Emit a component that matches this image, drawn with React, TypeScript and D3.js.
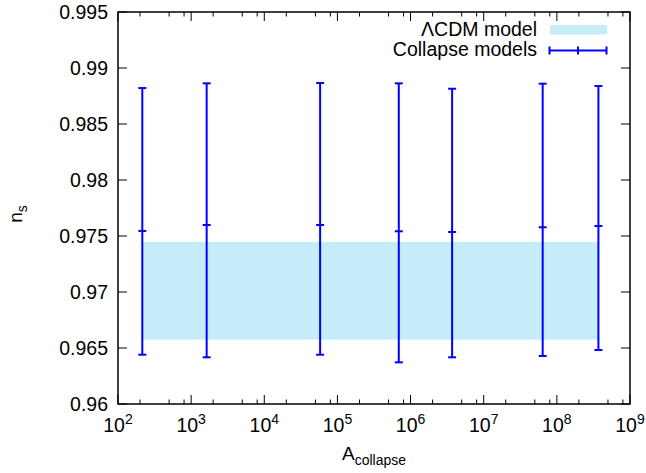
import * as d3 from "d3";

// A_collapse values and the fitted n_s with its error bar
const aCollapse = [215, 1630, 5.8e4, 6.9e5, 3.7e6, 6.4e7, 3.7e8];
const nsCentral = [0.97545, 0.97598, 0.97598, 0.97542, 0.97536, 0.97578, 0.97589];
const nsLow = [0.9644, 0.96417, 0.9644, 0.96372, 0.96417, 0.96429, 0.96482];
const nsHigh = [0.98821, 0.98863, 0.98866, 0.98863, 0.98815, 0.9886, 0.98839];

// LCDM band
const lcdmRange = [0.96574, 0.97446];

const yTicks = [0.96, 0.965, 0.97, 0.975, 0.98, 0.985, 0.99, 0.995];
const yTickLabels = ["0.96", "0.965", "0.97", "0.975", "0.98", "0.985", "0.99", "0.995"];
const xExponents = [2, 3, 4, 5, 6, 7, 8, 9];
const xMinorMult = [2, 5, 8];

const W = 646;
const H = 473;
const left = 118, right = 630, top = 12, bottom = 404;
const BLUE = "#0000ff";
const FONT = "'Liberation Sans', Arial, sans-serif";

export default function App() {
	const x = d3.scaleLog().domain([1e2, 1e9]).range([left, right]);
	const y = d3.scaleLinear().domain([0.96, 0.995]).range([bottom, top]);

	const minorX: number[] = [];
	xExponents.slice(0, -1).forEach((e) => {
		xMinorMult.forEach((m) => minorX.push(m * Math.pow(10, e)));
	});

	const cap = 4;
	const xFirst = x(aCollapse[0]);
	const xLast = x(aCollapse[aCollapse.length - 1]);

	return (
		<svg
			width={W}
			height={H}
			style={{position: "absolute", left: 0, top: 0, background: "#fff"}}
			fontFamily={FONT}
		>
			{/* LCDM band */}
			<rect
				x={xFirst}
				y={y(lcdmRange[1])}
				width={xLast - xFirst}
				height={y(lcdmRange[0]) - y(lcdmRange[1])}
				fill="#c4ecf9"
			/>

			{/* error bars */}
			<g stroke={BLUE} strokeWidth={2} fill="none">
				{aCollapse.map((a, i) => {
					const cx = x(a);
					return (
						<g key={i}>
							<line x1={cx} x2={cx} y1={y(nsLow[i])} y2={y(nsHigh[i])} />
							<line x1={cx - cap} x2={cx + cap} y1={y(nsLow[i])} y2={y(nsLow[i])} />
							<line x1={cx - cap} x2={cx + cap} y1={y(nsHigh[i])} y2={y(nsHigh[i])} />
							<line x1={cx - cap} x2={cx + cap} y1={y(nsCentral[i])} y2={y(nsCentral[i])} />
						</g>
					);
				})}
			</g>

			{/* ticks */}
			<g stroke="#000" strokeWidth={1}>
				{yTicks.map((t) => (
					<g key={t}>
						<line x1={left} x2={left + 9} y1={y(t)} y2={y(t)} />
						<line x1={right} x2={right - 9} y1={y(t)} y2={y(t)} />
					</g>
				))}
				{xExponents.map((e) => {
					const px = x(Math.pow(10, e));
					return (
						<g key={e}>
							<line x1={px} x2={px} y1={bottom} y2={bottom - 9} />
							<line x1={px} x2={px} y1={top} y2={top + 9} />
						</g>
					);
				})}
				{minorX.map((v) => (
					<g key={v}>
						<line x1={x(v)} x2={x(v)} y1={bottom} y2={bottom - 4.5} />
						<line x1={x(v)} x2={x(v)} y1={top} y2={top + 4.5} />
					</g>
				))}
			</g>

			{/* frame */}
			<rect x={left} y={top} width={right - left} height={bottom - top} fill="none" stroke="#000" strokeWidth={1.5} />

			{/* y tick labels */}
			<g fontSize={19.5} textAnchor="end" fill="#000">
				{yTicks.map((t, i) => (
					<text key={t} x={left - 10} y={y(t) + 7}>
						{yTickLabels[i]}
					</text>
				))}
			</g>

			{/* x tick labels */}
			<g fontSize={19.5} textAnchor="middle" fill="#000">
				{xExponents.map((e) => (
					<text key={e} x={x(Math.pow(10, e))} y={432}>
						10
						<tspan fontSize={14} dy={-8}>
							{e}
						</tspan>
					</text>
				))}
			</g>

			{/* axis titles */}
			<text x={(left + right) / 2} y={460} textAnchor="middle" fontSize={19} fill="#000">
				A
				<tspan fontSize={14} dy={5}>
					collapse
				</tspan>
			</text>
			<text transform="translate(22,214) rotate(-90)" textAnchor="middle" fontSize={19} fill="#000">
				n
				<tspan fontSize={14} dy={5}>
					s
				</tspan>
			</text>

			{/* legend */}
			<g fontSize={19.5} textAnchor="end" fill="#000">
				<text x={537} y={36}>ΛCDM model</text>
				<text x={537} y={56}>Collapse models</text>
			</g>
			<rect x={550} y={25} width={57} height={9.5} fill="#c4ecf9" />
			<g stroke={BLUE} strokeWidth={2}>
				<line x1={549.5} x2={606.5} y1={50.5} y2={50.5} />
				<line x1={549.5} x2={549.5} y1={46.5} y2={54.5} />
				<line x1={606.5} x2={606.5} y1={46.5} y2={54.5} />
				<line x1={578} x2={578} y1={46.5} y2={54.5} />
			</g>
		</svg>
	);
}
